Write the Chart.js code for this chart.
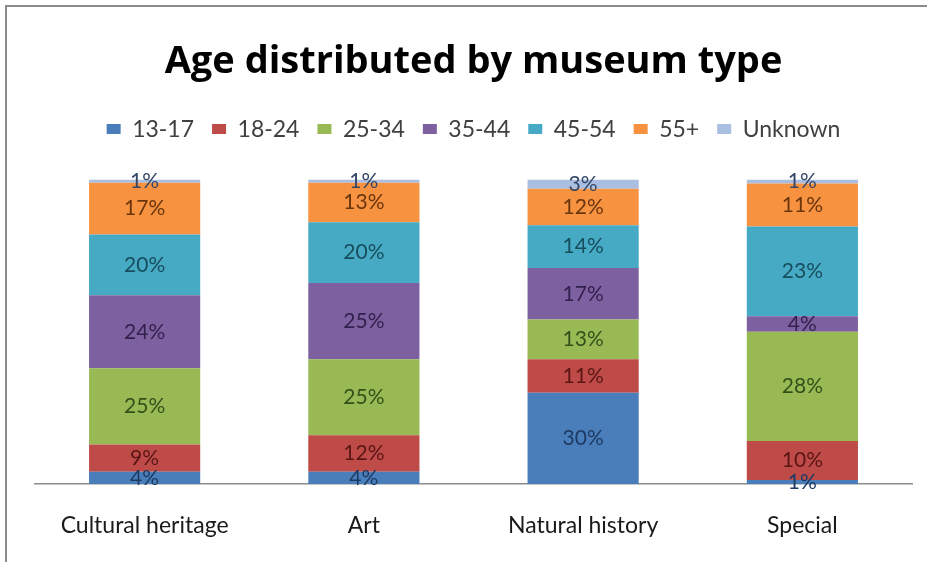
<!DOCTYPE html>
<html lang="en">
<head>
    <meta charset="UTF-8">
    <title>Age distributed by museum type</title>
    <script src="https://cdn.jsdelivr.net/npm/chart.js"></script>
    <style>
        body {
            margin: 0;
            background: #fff;
        }
        .chart-frame {
            position: absolute;
            left: 5px;
            top: 5px;
            width: 920px;
            height: 555px;
            border-left: 2px solid #8c8c8c;
            border-top: 2px solid #8c8c8c;
        }
    </style>
</head>
<body>
    <div class="chart-frame">
        <canvas id="ageChart" width="920" height="555"></canvas>
    </div>
    <script>
        // museum types
        const museumTypes = ['Cultural heritage', 'Art', 'Natural history', 'Special'];

        // share of visitors per age group (%), one entry per museum type
        const age13to17 = [4, 4, 30, 1];
        const age18to24 = [9, 12, 11, 10];
        const age25to34 = [25, 25, 13, 28];
        const age35to44 = [24, 25, 17, 4];
        const age45to54 = [20, 20, 14, 23];
        const age55plus = [17, 13, 12, 11];
        const ageUnknown = [1, 1, 3, 1];

        const groups = [
            { label: '13-17', values: age13to17, color: '#4a7ebb', text: '#1d3a63' },
            { label: '18-24', values: age18to24, color: '#be4b48', text: '#5a1614' },
            { label: '25-34', values: age25to34, color: '#98b954', text: '#34501a' },
            { label: '35-44', values: age35to44, color: '#7d60a0', text: '#33214d' },
            { label: '45-54', values: age45to54, color: '#46aac5', text: '#174d5c' },
            { label: '55+', values: age55plus, color: '#f69240', text: '#6a350c' },
            { label: 'Unknown', values: ageUnknown, color: '#a9bee0', text: '#354766' }
        ];

        // 100% stacked: each column is scaled to its own total
        const totals = museumTypes.map((_, i) => groups.reduce((s, g) => s + g.values[i], 0));

        const datasets = groups.map(g => ({
            label: g.label,
            data: g.values.map((v, i) => v / totals[i] * 100),
            rawValues: g.values,
            labelColor: g.text,
            backgroundColor: g.color,
            borderWidth: 0,
            barPercentage: 1,
            categoryPercentage: 0.507
        }));

        const font = 'Lato, "Open Sans", sans-serif';

        // value labels in the middle of each segment
        const segmentLabels = {
            id: 'segmentLabels',
            afterDatasetsDraw(chart) {
                const ctx = chart.ctx;
                ctx.save();
                ctx.font = '21px ' + font;
                ctx.textAlign = 'center';
                ctx.textBaseline = 'middle';
                chart.data.datasets.forEach((ds, di) => {
                    chart.getDatasetMeta(di).data.forEach((bar, i) => {
                        ctx.fillStyle = ds.labelColor;
                        ctx.fillText(ds.rawValues[i] + '%', bar.x, (bar.y + bar.base) / 2);
                    });
                });
                ctx.restore();
            }
        };

        // extra room between the legend and the bars
        const legendGap = {
            id: 'legendGap',
            beforeInit(chart) {
                const fit = chart.legend.fit;
                chart.legend.fit = function () {
                    fit.call(this);
                    this.height += 29;
                };
            }
        };

        new Chart(document.getElementById('ageChart'), {
            type: 'bar',
            data: { labels: museumTypes, datasets: datasets },
            options: {
                responsive: false,
                animation: false,
                layout: { padding: { left: 28, right: 15, bottom: 0 } },
                plugins: {
                    title: {
                        display: true,
                        text: 'Age distributed by museum type',
                        color: '#000',
                        font: { family: '"Open Sans", Lato, sans-serif', size: 38, weight: 'bold' },
                        padding: { top: 32, bottom: 15 }
                    },
                    legend: {
                        position: 'top',
                        labels: {
                            color: '#404040',
                            font: { family: font, size: 23 },
                            boxWidth: 14,
                            boxHeight: 10,
                            padding: 18
                        }
                    },
                    tooltip: { enabled: false }
                },
                scales: {
                    x: {
                        stacked: true,
                        grid: { display: false, drawTicks: false },
                        border: { display: true, color: '#8c8c8c', width: 1.5 },
                        ticks: {
                            color: '#1a1a1a',
                            font: { family: font, size: 23 },
                            padding: 28
                        },
                        afterFit(scale) {
                            scale.height = 78;
                        }
                    },
                    y: {
                        stacked: true,
                        display: false,
                        min: 0,
                        max: 100
                    }
                }
            },
            plugins: [segmentLabels, legendGap]
        });
    </script>
</body>
</html>
